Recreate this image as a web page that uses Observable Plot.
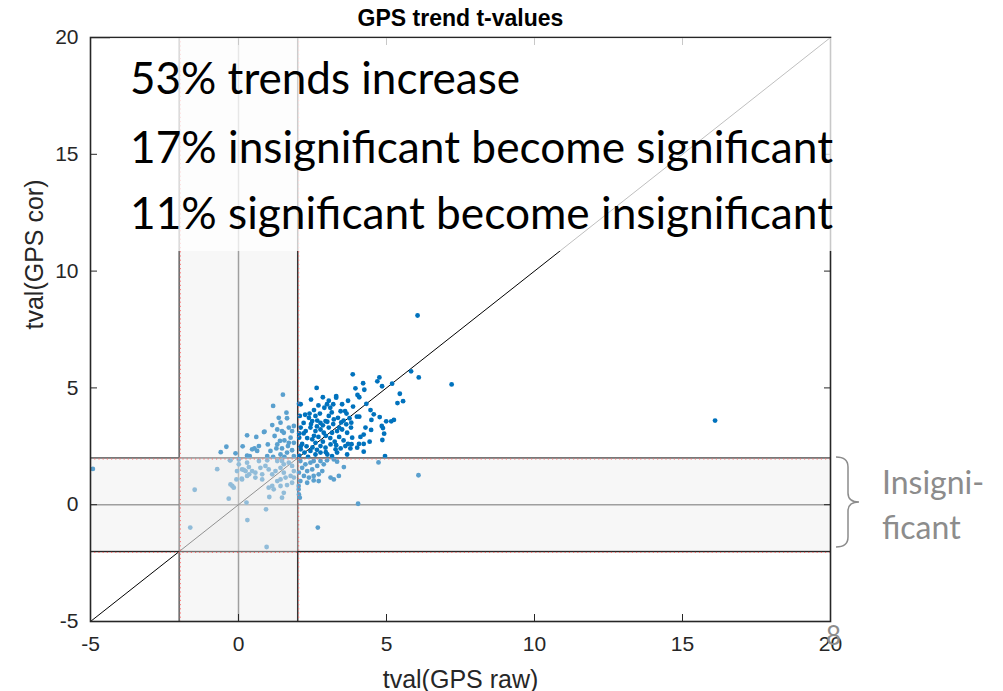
<!DOCTYPE html>
<html><head><meta charset="utf-8">
<script src="https://cdn.jsdelivr.net/npm/d3@7"></script>
<script src="https://cdn.jsdelivr.net/npm/@observablehq/plot@0.6"></script>
<style>
body{margin:0;background:#fff;}
#wrap{position:relative;width:1003px;height:691px;overflow:hidden;background:#fff;}
#wrap > svg{position:absolute;left:0;top:0;}
</style></head><body><div id="wrap"></div>
<script>
// ---- data ----
const chartTitle = "GPS trend t-values";
const xLabel = "tval(GPS raw)";
const yLabel = "tval(GPS cor)";
const xDomain = [-5, 20];
const yDomain = [-5, 20];
const xTicks = [-5, 0, 5, 10, 15, 20];
const yTicks = [-5, 0, 5, 10, 15, 20];
const sigThreshold = 2;
const summaryLines = [
  "53% trends increase",
  "17% insignificant become significant",
  "11% significant become insignificant"
];
const bandNote = ["Insigni-", "ficant"];
const slideNumber = "8";

// [tval raw, tval cor]
const gpsPoints = [
  // significant in both
  [6.05,8.1],[7.2,5.15],[6.09,5.45],[5.83,5.71],[5.19,5.18],[5.45,4.75],[5.56,4.43],[5.37,4.35],
  [4.76,5.45],[4.69,5.28],[4.85,5.07],[4.21,5.2],[4.25,4.92],[3.95,4.98],[3.86,5.58],[4.02,4.7],
  [4.08,4.6],[4.32,4.32],[3.87,4.2],[4.46,4.05],[4.57,3.87],[4.49,3.63],[4.77,3.75],[4.0,3.77],
  [4.08,3.77],[3.81,3.51],[4.99,3.57],[5.16,3.57],[5.25,3.63],[4.84,3.37],[4.88,3.28],[4.92,3.04],
  [4.86,2.77],[4.23,3.0],[4.12,2.9],[4.43,2.7],[4.23,2.6],[4.07,2.6],[4.01,2.44],[3.82,2.59],
  [4.23,2.27],[4.95,2.08],[3.84,2.87],[2.64,5.0],[3.3,4.65],
  [2.1,4.3],[2.4,3.9],[2.55,4.05],[2.75,3.9],[2.9,4.15],[2.99,4.3],[3.1,4.15],[3.2,4.3],[3.3,4.58],
  [3.5,4.3],[3.6,4.01],[3.64,3.44],[3.47,3.52],[3.36,3.72],[3.22,3.65],[3.05,3.8],[2.94,3.58],
  [2.77,3.5],[2.66,3.6],[2.49,3.58],[2.38,3.72],[2.2,3.5],[2.07,3.8],[2.1,3.3],[2.27,3.15],
  [2.43,3.3],[2.6,3.15],[2.77,3.22],[2.88,3.08],[3.05,3.3],[3.16,3.08],[3.33,3.15],[3.5,3.22],
  [3.67,3.08],[3.78,2.41],[3.61,2.51],[3.45,2.41],[3.28,2.37],[3.11,2.58],[2.94,2.44],[2.77,2.51],
  [2.6,2.65],[2.49,2.8],[2.32,2.85],[2.05,2.87],[2.1,2.37],[2.23,2.23],[2.43,2.3],[2.6,2.15],
  [2.77,2.23],[3.0,2.15],[3.16,2.08],[3.33,2.23],[3.67,2.15],[3.8,3.3],[4.29,3.3],[4.48,3.2],
  [2.05,2.1],[2.15,2.6],[2.3,2.5],[2.35,2.05],[2.5,2.45],[2.55,2.95],[2.7,2.9],[2.85,2.7],
  [2.95,2.95],[3.1,2.85],[3.25,2.7],[3.4,2.9],[3.55,2.75],[3.7,2.6],[2.2,3.05],[2.45,3.45],
  [2.65,3.35],[2.85,3.4],[3.0,3.55],[3.2,3.45],[3.4,3.3],[3.55,3.6],[3.75,3.7],[3.05,4.45],
  [2.85,4.6],[3.15,3.95],[2.45,4.5],[2.7,4.25],[3.45,4.0],[3.7,4.45],[2.1,2.5],[2.05,3.05],
  [3.3,2.55],[2.65,2.35],[2.95,2.25],[2.25,3.85],[2.6,3.8],[3.65,3.9],[2.04,4.32],[16.1,3.6],
  // raw insignificant, corrected significant
  [1.5,4.71],[1.17,4.23],[-0.41,2.48],[0.14,2.5],[0.29,2.97],[0.86,3.11],[1.36,3.72],[1.62,3.94],
  [1.64,3.7],[1.42,3.51],[1.14,3.41],[1.31,3.22],[1.47,3.15],[1.7,3.3],[1.81,3.15],[1.87,3.37],
  [0.88,3.13],[1.22,2.94],[1.4,2.73],[1.55,2.75],[1.76,2.87],[1.87,2.65],[1.67,2.51],[1.47,2.41],
  [1.28,2.41],[1.08,2.3],[0.99,2.58],[0.69,2.51],[0.54,2.41],[0.46,2.37],[0.63,2.3],[0.97,2.08],
  [1.17,2.05],[1.42,2.15],[1.64,2.23],[1.81,2.33],[1.87,2.08],[1.55,2.05],[1.31,2.58],[1.7,2.65],
  [1.53,3.08],[0.29,2.1],[0.38,2.08],[-0.6,2.25],[0.6,2.9],[-0.1,2.2],[0.31,2.08],
  // raw significant, corrected insignificant
  [2.09,1.87],[2.26,1.73],[2.43,1.8],[2.54,1.87],[2.77,1.87],[2.99,1.9],[3.22,1.94],[3.33,1.84],
  [2.88,1.73],[2.66,1.66],[2.49,1.51],[2.32,1.44],[2.15,1.58],[2.04,1.37],[2.21,1.23],[2.38,1.16],
  [2.54,1.23],[2.71,1.3],[2.83,1.44],[3.11,1.16],[3.22,1.08],[3.39,1.23],[3.56,1.61],[2.71,1.01],
  [2.54,1.04],[2.32,0.94],[2.09,1.01],[2.03,0.8],[2.04,0.44],[2.07,0.3],[2.03,0.66],[4.73,1.81],
  [6.08,1.26],[4.04,0.04],[2.68,-0.98],
  // insignificant in both
  [-0.27,1.9],[0.01,1.94],[0.29,1.8],[0.12,1.51],[0.35,1.61],[0.46,1.44],[0.57,1.37],[0.74,1.58],
  [0.8,1.3],[0.91,1.66],[1.02,1.51],[1.14,1.3],[1.25,1.44],[1.42,1.58],[1.53,1.73],[1.7,1.8],
  [1.81,1.66],[1.87,1.44],[1.76,1.23],[1.59,1.16],[1.42,1.08],[1.31,1.01],[1.14,0.8],[1.02,0.73],
  [1.19,0.66],[1.42,0.8],[1.64,0.84],[1.81,0.94],[0.8,1.08],[0.57,1.16],[0.29,1.23],[0.12,1.08],
  [-0.07,1.08],[-0.21,0.8],[-0.27,0.87],[-0.16,0.73],[0.24,1.44],[0.69,1.87],[0.97,1.9],[1.31,1.87],
  [1.47,1.87],[-0.05,1.44],[1.53,0.51],[1.47,0.3],[1.87,1.16],[1.53,1.37],[0.01,1.73],[0.18,1.49],
  [0.36,1.3],[0.11,1.11],[0.95,-1.81],[-1.63,-0.98],[0.3,-0.66],[0.93,-0.2],[0.27,0.09],[1.04,0.33],
  [-0.33,0.26],[-1.48,0.64],[-0.72,1.52],[-0.29,1.9],[-4.92,1.53]
];

// ---- build ----
const points = gpsPoints.map(([raw, cor]) => ({raw, cor}));
const diag = xDomain.slice();
const vBand = [{x1: -sigThreshold, x2: sigThreshold, y1: yDomain[0], y2: yDomain[1]}];
const hBand = [{x1: xDomain[0], x2: xDomain[1], y1: -sigThreshold, y2: sigThreshold}];
const edges = [-sigThreshold, sigThreshold];
const bandFill = "#eaeaea", bandOpacity = 0.384;
const fmt = d => `${d}`;

const chart = Plot.plot({
  width: 1003, height: 691,
  marginLeft: 90, marginRight: 173, marginTop: 37, marginBottom: 70,
  x: {domain: xDomain},
  y: {domain: yDomain},
  style: {fontFamily: "'Liberation Sans', Arial, sans-serif", fontSize: "20px", color: "#262626", background: "transparent"},
  marks: [
    Plot.ruleX([0], {stroke: "#707070", strokeWidth: 1.5}),
    Plot.ruleY([0], {stroke: "#707070", strokeWidth: 1.5}),
    Plot.ruleX(edges, {stroke: "#262626", strokeWidth: 1.5}),
    Plot.ruleY(edges, {stroke: "#262626", strokeWidth: 1.5}),
    Plot.line(diag, {x: d => d, y: d => d, stroke: "#000", strokeWidth: 1}),
    Plot.dot(points, {x: "raw", y: "cor", r: 2.4, fill: "#0072BD", stroke: "none"}),
    Plot.rect(vBand, {x1: "x1", x2: "x2", y1: "y1", y2: "y2", fill: bandFill, fillOpacity: bandOpacity}),
    Plot.rect(hBand, {x1: "x1", x2: "x2", y1: "y1", y2: "y2", fill: bandFill, fillOpacity: bandOpacity}),
    Plot.ruleX(edges, {stroke: "#ff6a6a", strokeWidth: 1, strokeDasharray: "1.2,3", dx: 1}),
    Plot.ruleY(edges, {stroke: "#ff6a6a", strokeWidth: 1, strokeDasharray: "1.2,3", dy: 1}),
    Plot.frame({stroke: "#262626", strokeWidth: 1.6}),
    Plot.axisX({ticks: xTicks, tickFormat: fmt, tickSize: -7, tickPadding: 22, label: null, fontSize: 21}),
    Plot.axisX({anchor: "top", ticks: xTicks, tickFormat: () => "", tickSize: -7, label: null}),
    Plot.axisY({ticks: yTicks, tickFormat: fmt, tickSize: -7, tickPadding: 19, label: null, fontSize: 21}),
    Plot.axisY({anchor: "right", ticks: yTicks, tickFormat: () => "", tickSize: -7, label: null}),
    Plot.text([chartTitle], {frameAnchor: "top", lineAnchor: "middle", dy: -19, fontWeight: "bold", fontSize: 23, fill: "#000"}),
    Plot.text([xLabel], {frameAnchor: "bottom", lineAnchor: "middle", dy: 58, fontSize: 25, fill: "#262626"}),
    Plot.text([yLabel], {frameAnchor: "left", dx: -56, rotate: -90, fontSize: 25, fill: "#262626"})
  ]
});
const wrap = document.getElementById("wrap");
wrap.appendChild(chart);

// ---- slide annotations (text box, brace, note, slide number) ----
const ov = d3.select(wrap).append("svg").attr("width", 1003).attr("height", 691);
ov.append("rect").attr("x", 110).attr("y", 38).attr("width", 725).attr("height", 213)
  .attr("fill", "#fff").attr("fill-opacity", 0.75);
const lineW = [390, 703, 703];
const lineY = [94, 163, 229];
summaryLines.forEach((t, i) => {
  ov.append("text").attr("x", 130).attr("y", lineY[i]).text(t)
    .attr("font-family", "Lato, 'Open Sans', sans-serif").attr("font-size", 45)
    .attr("textLength", lineW[i]).attr("lengthAdjust", "spacingAndGlyphs").attr("fill", "#000");
});
ov.append("path")
  .attr("d", "M836,457 Q848,457 848,467 L848,493 Q848,502 859,502 Q848,502 848,511 L848,537 Q848,547 836,547")
  .attr("fill", "none").attr("stroke", "#8c8c8c").attr("stroke-width", 1.5);
bandNote.forEach((t, i) => {
  ov.append("text").attr("x", 882).attr("y", [494, 539][i]).text(t)
    .attr("font-family", "Lato, 'Open Sans', sans-serif").attr("font-size", 32).attr("fill", "#8c8c8c");
});
ov.append("text").attr("x", 826).attr("y", 645).text(slideNumber)
  .attr("font-family", "Lato, 'Open Sans', sans-serif").attr("font-size", 26).attr("fill", "#8c8c8c");
</script></body></html>
